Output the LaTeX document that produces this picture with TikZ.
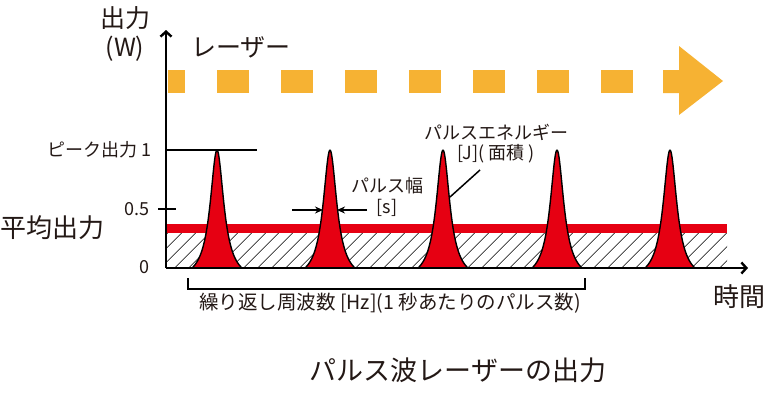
\documentclass[tikz,border=0pt]{standalone}
\usepackage{fontspec}
\setmainfont{Noto Sans CJK JP}
\usetikzlibrary{arrows.meta, positioning, patterns.meta}
\definecolor{lasercolor}{RGB}{246,178,51}
\definecolor{pulsecolor}{RGB}{230,0,18}
\definecolor{textcolor}{RGB}{35,24,21}

\begin{document}
\begin{tikzpicture}[
    x=1pt, y=-1pt,
    big/.style={font=\fontsize{26}{30}\selectfont, text=textcolor, inner sep=0pt},
    label/.style={font=\fontsize{18}{21}\selectfont, text=textcolor, inner sep=0pt, align=center},
    note/.style={font=\fontsize{19.5}{22}\selectfont, text=textcolor, inner sep=0pt},
    axis/.style={line width=2.4pt, -{Straight Barb[length=5pt, width=11pt]}},
    tick/.style={line width=2pt},
    pulse/.style={draw=black, line width=1.4pt, fill=pulsecolor},
    laser/.style={fill=lasercolor},
    arrow/.style={-{Stealth[length=8pt, width=7pt]}, line width=1.4pt},
    bracket/.style={line width=1.6pt}
]
    % Frame
    \useasboundingbox (0,0) rectangle (768,392);

    % Axis points
    \coordinate (origin) at (166,268);
    \coordinate (ytop) at (166,30);
    \coordinate (xend) at (748,268);

    % Average power: hatched area and red band
    \fill[pattern={Lines[angle=45, distance=10.5pt, line width=0.8pt]}] (166,233) rectangle (727,268);
    \fill[pulsecolor] (166,224) rectangle (727,233);

    % Laser dashes
    \fill[laser] (168,70) rectangle (185,93);
    \foreach \s in {217,281,...,601}
        \fill[laser] (\s,70) rectangle ++(32,23);
    \fill[laser] (663,70) -- (679,70) -- (679,46) -- (723,81)
        -- (679,115) -- (679,93) -- (663,93) -- cycle;

    % Pulses
    \foreach \c in {217,330,443,557,670}
        \filldraw[pulse] plot[domain=-25:25, samples=80, smooth]
            (\c+\x, {268-118*(1/(1+(\x/8.3)^2)-0.0993)/(1-0.0993)}) -- cycle;

    % Axes
    \draw[axis] (origin) -- (ytop);
    \draw[axis] (origin) -- (xend);

    % Ticks
    \coordinate (peakleft) at (166,150);
    \coordinate (peakright) at (257,150);
    \coordinate (halfleft) at (158,209);
    \coordinate (halfright) at (176,209);
    \draw[tick] (peakleft) -- (peakright);
    \draw[tick] (halfleft) -- (halfright);

    % Axis labels
    \node[big, font=\fontsize{25}{29}\selectfont] (power) at (125,18) {出力};
    \node[big, font=\fontsize{25}{29}\selectfont, below=6pt of power] (unit) {(W)};
    \node[big, anchor=west] (time) at (713,297) {時間};
    \node[big, font=\fontsize{25}{29}\selectfont] (laserlabel) at (241,47) {レーザー};
    \node[label, anchor=east] (peak) at (152,150) {ピーク出力 1};
    \node[label, anchor=east] (half) at (150,209) {0.5};
    \node[label, anchor=east] (zero) at (150,267) {0};
    \node[big, anchor=west] (average) at (0,228) {平均出力};

    % Pulse width
    \node[label] (width) at (387,186) {パルス幅};
    \node[label, below=5pt of width] (widthunit) {[s]};
    \coordinate (wl) at (292,210);
    \coordinate (wlend) at (323,210);
    \coordinate (wr) at (367,210);
    \coordinate (wrend) at (337,210);
    \draw[arrow] (wl) -- (wlend);
    \draw[arrow] (wr) -- (wrend);

    % Pulse energy
    \node[label] (energy) at (496,132) {パルスエネルギー};
    \node[label, below=4pt of energy] (energyunit) {[J]( 面積 )};
    \coordinate (leadstart) at (480,170);
    \coordinate (leadend) at (450,197);
    \draw[line width=1.5pt] (leadstart) -- (leadend);

    % Repetition rate
    \coordinate (bl) at (188,278);
    \coordinate (br) at (585,278);
    \draw[bracket] (bl) -- ++(0,11) -| (br);
    \node[note] (rate) at (390,303) {繰り返し周波数 [Hz](1 秒あたりのパルス数)};

    % Title
    \node[big, font=\fontsize{27}{31}\selectfont] (title) at (458,370) {パルス波レーザーの出力};
\end{tikzpicture}
\end{document}
